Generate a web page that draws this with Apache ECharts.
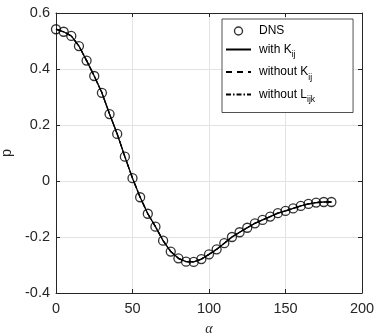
<!DOCTYPE html>
<html>
<head>
<meta charset="utf-8">
<script src="https://cdn.jsdelivr.net/npm/echarts@6/dist/echarts.min.js"></script>
<style>html,body{margin:0;padding:0;background:#fff}#c{width:376px;height:336px}</style>
</head>
<body>
<div id="c"></div>
<script>
const alpha = [0,5,10,15,20,25,30,35,40,45,50,55,60,65,70,75,80,85,90,95,100,105,110,115,120,125,130,135,140,145,150,155,160,165,170,175,180];
const dns = [0.542,0.533,0.518,0.482,0.430,0.375,0.315,0.239,0.168,0.087,0.010,-0.058,-0.117,-0.163,-0.213,-0.252,-0.276,-0.288,-0.289,-0.279,-0.262,-0.244,-0.222,-0.200,-0.183,-0.167,-0.151,-0.139,-0.127,-0.115,-0.107,-0.098,-0.089,-0.082,-0.077,-0.075,-0.075];
const withK = [0.542,0.533,0.518,0.482,0.430,0.375,0.315,0.239,0.168,0.087,0.010,-0.058,-0.117,-0.163,-0.213,-0.252,-0.276,-0.288,-0.289,-0.279,-0.262,-0.244,-0.222,-0.200,-0.183,-0.167,-0.151,-0.139,-0.127,-0.115,-0.107,-0.098,-0.089,-0.082,-0.077,-0.075,-0.075];
const withoutK = withK.slice();
const withoutL = withK.slice();
const xTicks = [0,50,100,150,200];
const yTicks = [-0.4,-0.2,0,0.2,0.4,0.6];

const pairs = (ys) => alpha.map((a,i)=>[a, ys[i]]);
const axisColor = '#262626';
const font = 'Liberation Sans';

const chart = echarts.init(document.getElementById('c'), null, {renderer:'canvas'});
const legendRich = {
  n: {fontSize: 12, fontFamily: font, color: '#000', padding: [0,0,0,3]},
  s: {fontSize: 8.5, fontFamily: font, color: '#000', verticalAlign: 'bottom', padding: [11,0,0,0]}
};
const hideSym = {color: 'rgba(0,0,0,0)', borderColor: 'rgba(0,0,0,0)', borderWidth: 0};
chart.setOption({
  animation: false,
  grid: {left: 56, right: 14, top: 13, bottom: 43, containLabel: false, outerBoundsMode: 'none'},
  xAxis: [{
    type: 'value', min: xTicks[0], max: xTicks[xTicks.length-1], interval: 50, position: 'bottom',
    name: 'α', nameLocation: 'middle', nameGap: 29,
    nameTextStyle: {fontFamily: 'Liberation Serif', fontStyle: 'italic', fontSize: 14, color: axisColor},
    axisLine: {show: true, onZero: false, lineStyle: {color: axisColor, width: 1}},
    axisTick: {show: true, inside: true, length: 4, lineStyle: {color: axisColor}},
    axisLabel: {color: axisColor, fontSize: 14.5, fontFamily: font, margin: 8},
    splitLine: {show: true, lineStyle: {color: '#e3e3e3', width: 1}}
  }, {
    type: 'value', min: xTicks[0], max: xTicks[xTicks.length-1], interval: 50, position: 'top',
    axisLine: {show: true, onZero: false, lineStyle: {color: axisColor, width: 1}},
    axisTick: {show: true, inside: true, length: 4, lineStyle: {color: axisColor}},
    axisLabel: {show: false}, splitLine: {show: false}
  }],
  yAxis: [{
    type: 'value', min: yTicks[0], max: yTicks[yTicks.length-1], interval: 0.2, position: 'left',
    name: 'p', nameLocation: 'middle', nameGap: 41,
    nameTextStyle: {fontFamily: 'Liberation Sans, Arial, sans-serif', fontSize: 14.5, color: axisColor},
    axisLine: {show: true, onZero: false, lineStyle: {color: axisColor, width: 1}},
    axisTick: {show: true, inside: true, length: 4, lineStyle: {color: axisColor}},
    axisLabel: {color: axisColor, fontSize: 14.5, fontFamily: font, margin: 6,
      formatter: v => (Math.abs(v) < 1e-9 ? '0' : (+v.toFixed(1)).toString())},
    splitLine: {show: true, lineStyle: {color: '#e3e3e3', width: 1}}
  }, {
    type: 'value', min: yTicks[0], max: yTicks[yTicks.length-1], interval: 0.2, position: 'right',
    axisLine: {show: true, onZero: false, lineStyle: {color: axisColor, width: 1}},
    axisTick: {show: true, inside: true, length: 4, lineStyle: {color: axisColor}},
    axisLabel: {show: false}, splitLine: {show: false}
  }],
  legend: {
    orient: 'vertical', left: 222, top: 19,
    backgroundColor: '#fff',
    borderColor: '#262626', borderWidth: 0.8,
    padding: [6, 38, 8, 3],
    itemGap: 6.5, itemWidth: 25, itemHeight: 8,
    textStyle: {fontSize: 12, fontFamily: font, color: '#000', rich: legendRich},
    data: [
      {name: 'DNS', itemStyle: {color: 'rgba(0,0,0,0)', borderColor: '#000', borderWidth: 1.4}, icon: 'circle'},
      {name: 'with K_ij', itemStyle: hideSym},
      {name: 'without K_ij', itemStyle: hideSym},
      {name: 'without L_ijk', itemStyle: hideSym}
    ],
    formatter: function(name){
      const m = name.match(/^(.*?)_(\w+)$/);
      if (m) return '{n|' + m[1] + '}{s|' + m[2] + '}';
      return '{n|' + name + '}';
    }
  },
  series: [
    {name: 'with K_ij', type: 'line', data: pairs(withK), symbol: 'none', z: 2,
      lineStyle: {color: '#000', width: 1.3, type: 'solid'}, itemStyle: {color: '#000'}},
    {name: 'without K_ij', type: 'line', data: pairs(withoutK), symbol: 'none', z: 2,
      lineStyle: {color: '#000', width: 1.3, type: [6, 5]}, itemStyle: {color: '#000'}},
    {name: 'without L_ijk', type: 'line', data: pairs(withoutL), symbol: 'none', z: 2,
      lineStyle: {color: '#000', width: 1.3, type: [5, 2, 1.5, 2]}, itemStyle: {color: '#000'}},
    {name: 'DNS', type: 'scatter', data: pairs(dns), symbol: 'circle', symbolSize: 9, z: 3,
      itemStyle: {color: 'rgba(0,0,0,0)', borderColor: '#000', borderWidth: 1.3}}
  ]
});
</script>
</body>
</html>
